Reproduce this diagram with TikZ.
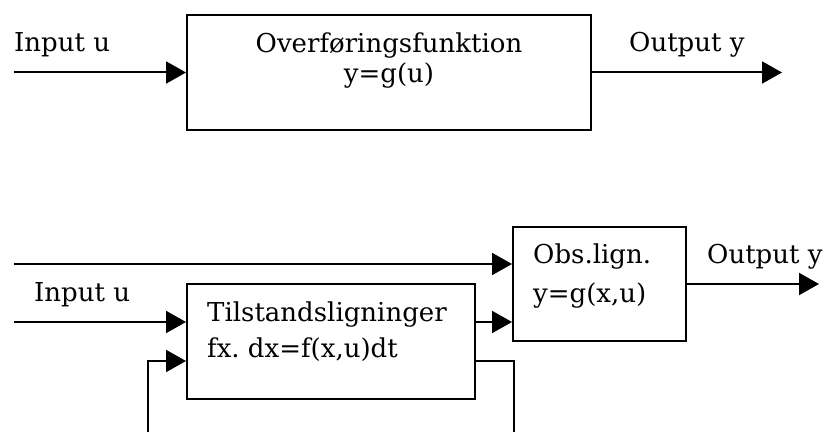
\documentclass[tikz,border=0pt]{standalone}
\usepackage{fontspec}
\setmainfont{DejaVu Serif}
\frenchspacing
\usetikzlibrary{arrows.meta}
\tikzset{
  blok/.style={draw=black, line width=2pt, inner sep=0pt},
  pil/.style={-{Triangle[length=20pt,width=22pt]}, line width=2pt},
  linje/.style={line width=2pt},
  lab/.style={font=\fontsize{26}{30}\selectfont, inner sep=0pt}
}
\begin{document}
\begin{tikzpicture}[x=1pt,y=1pt]
  \useasboundingbox (0,0) rectangle (833,432);

  % overfoeringsfunktion
  \node[blok, minimum width=404pt, minimum height=115pt] (ovf) at (389,359.5) {};
  \node[lab, anchor=base] (ovfa) at (389,379) {Overføringsfunktion};
  \node[lab, anchor=base] (ovfb) at (389,349) {y=g(u)};
  \coordinate (ind1) at (14,359.5);
  \coordinate (ud1) at (782,359.5);
  \draw[pil] (ind1) -- (ovf.west);
  \draw[pil] (ovf.east) -- (ud1);
  \node[lab, anchor=base west] (inlab1) at (14,380) {Input u};
  \node[lab, anchor=base west] (udlab1) at (629,380) {Output y};

  % tilstandsmodel
  \node[blok, minimum width=288pt, minimum height=115pt] (tils) at (331,90.5) {};
  \node[blok, minimum width=173pt, minimum height=114pt] (obs) at (599.5,148) {};
  \node[lab, anchor=base west] (tilsa) at (207,111) {Tilstandsligninger};
  \node[lab, anchor=base west] (tilsb) at (207,75) {fx. dx=f(x,u)dt};
  \node[lab, anchor=base west] (obsa) at (533,169) {Obs.lign.};
  \node[lab, anchor=base west] (obsb) at (533,130) {y=g(x,u)};
  \coordinate (ind2) at (14,110);
  \coordinate (top2) at (14,168);
  \coordinate (ud2) at (819,148);
  \coordinate (fbind) at (148,0);
  \coordinate (fbud) at (514,0);
  \draw[pil] (ind2) -- (tils.west |- ind2);
  \draw[pil] (top2) -- (obs.west |- top2);
  \draw[pil] (tils.east |- ind2) -- (obs.west |- ind2);
  \draw[pil] (obs.east) -- (ud2);
  \draw[pil] (fbind) |- ([yshift=-19.5pt]tils.west);
  \draw[linje] ([yshift=-19.5pt]tils.east) -| (fbud);
  \node[lab, anchor=base west] (inlab2) at (34,131) {Input u};
  \node[lab, anchor=base west] (udlab2) at (707,169) {Output y};
\end{tikzpicture}
\end{document}
